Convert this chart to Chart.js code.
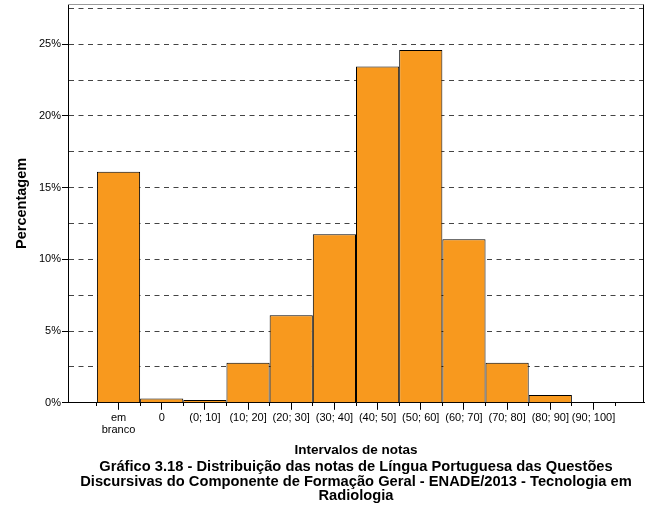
<!DOCTYPE html>
<html>
<head>
<meta charset="utf-8">
<script src="https://cdn.jsdelivr.net/npm/chart.js@4/dist/chart.umd.min.js"></script>
<style>
  body { margin: 0; background: #fff; }
  #wrap { width: 652px; height: 517px; }
</style>
</head>
<body>
<div id="wrap"><canvas id="chart" width="652" height="517"></canvas></div>
<script>
// Intervalos de notas (categories) and percentage per interval
const categories = [["em", "branco"], "0", "(0; 10]", "(10; 20]", "(20; 30]", "(30; 40]",
  "(40; 50]", "(50; 60]", "(60; 70]", "(70; 80]", "(80; 90]", "(90; 100]"];
const percentages = [16.1, 0.3, 0.2, 2.8, 6.1, 11.75, 23.45, 24.6, 11.4, 2.8, 0.55, 0];
const yTickValues = [0, 2.5, 5, 7.5, 10, 12.5, 15, 17.5, 20, 22.5, 25, 27.5];
const caption = [
  "Gráfico 3.18 - Distribuição das notas de Língua Portuguesa das Questões",
  "Discursivas do Componente de Formação Geral - ENADE/2013 - Tecnologia em",
  "Radiologia"
];

const FONT = "'Liberation Sans', Arial, sans-serif";

// top and right edges of the plot frame
const framePlugin = {
  id: "frame",
  afterDraw(chart) {
    const { ctx, chartArea } = chart;
    const top = Math.round(chartArea.top) + 0.5;
    const right = Math.round(chartArea.right) - 0.5;
    ctx.save();
    ctx.lineWidth = 1;
    ctx.strokeStyle = "#999";
    ctx.beginPath();
    ctx.moveTo(chartArea.left, top);
    ctx.lineTo(right, top);
    ctx.stroke();
    ctx.strokeStyle = "#000";
    ctx.beginPath();
    ctx.moveTo(right, top);
    ctx.lineTo(right, chartArea.bottom);
    ctx.stroke();
    ctx.restore();
  }
};

const ctx = document.getElementById("chart").getContext("2d");
new Chart(ctx, {
  type: "bar",
  data: {
    datasets: [{
      label: "Percentagem",
      data: percentages.map((v, i) => ({ x: i, y: v })),
      backgroundColor: "#F8991E",
      borderColor: "#000",
      borderWidth: 1,
      barPercentage: 1,
      categoryPercentage: 2
    }]
  },
  options: {
    responsive: false,
    animation: false,
    layout: { padding: { top: 4, right: 8, bottom: 0, left: 0 } },
    plugins: {
      legend: { display: false },
      tooltip: { enabled: false },
      title: {
        display: true,
        position: "bottom",
        fullSize: false,
        text: caption,
        color: "#000",
        font: { family: FONT, size: 14.7, weight: "bold", lineHeight: "14.5px" },
        padding: { top: 0, bottom: 13.7 }
      }
    },
    scales: {
      x: {
        type: "linear",
        offset: false,
        min: -1.17,
        max: 12.17,
        afterBuildTicks(scale) {
          const ticks = [];
          for (let v = -0.5; v <= categories.length - 0.5; v += 0.5) ticks.push({ value: v });
          scale.ticks = ticks;
        },
        afterFit(scale) {
          scale.height = 57;
          scale.paddingLeft = 0;
          scale.paddingRight = 0;
        },
        ticks: {
          autoSkip: false,
          maxRotation: 0,
          padding: 2,
          color: "#000",
          font: { family: FONT, size: 11, lineHeight: "12px" },
          callback: (value) => Number.isInteger(value) ? categories[value] : ""
        },
        grid: {
          offset: false,
          drawOnChartArea: false,
          tickLength: 7,
          tickColor: "#000",
          tickBorderDash: (c) => (c.tick && !Number.isInteger(c.tick.value)) ? [3, 30] : []
        },
        border: { color: "#000", width: 1 },
        title: {
          display: true,
          text: "Intervalos de notas",
          color: "#000",
          font: { family: FONT, size: 13.5, weight: "bold", lineHeight: "15px" },
          padding: { top: 0, bottom: 2.2 }
        }
      },
      y: {
        min: 0,
        max: 27.8,
        afterBuildTicks(scale) {
          scale.ticks = yTickValues.map((v) => ({ value: v }));
        },
        afterFit(scale) {
          scale.width = 68;
          scale.paddingTop = 0;
          scale.paddingBottom = 0;
        },
        ticks: {
          autoSkip: false,
          padding: 1,
          color: "#000",
          font: { family: FONT, size: 11 },
          callback: (value) => value % 5 === 0 ? value + "%" : ""
        },
        grid: {
          color: "#444",
          lineWidth: 1,
          tickLength: 6,
          tickColor: (c) => (c.tick && c.tick.value % 5 === 0) ? "#000" : "rgba(0,0,0,0)"
        },
        border: { color: "#000", width: 1, dash: [5, 4.5] },
        title: {
          display: true,
          text: "Percentagem",
          color: "#000",
          font: { family: FONT, size: 14.5, weight: "bold", lineHeight: "16px" },
          padding: { top: 14, bottom: 0 }
        }
      }
    }
  },
  plugins: [framePlugin]
});
</script>
</body>
</html>
